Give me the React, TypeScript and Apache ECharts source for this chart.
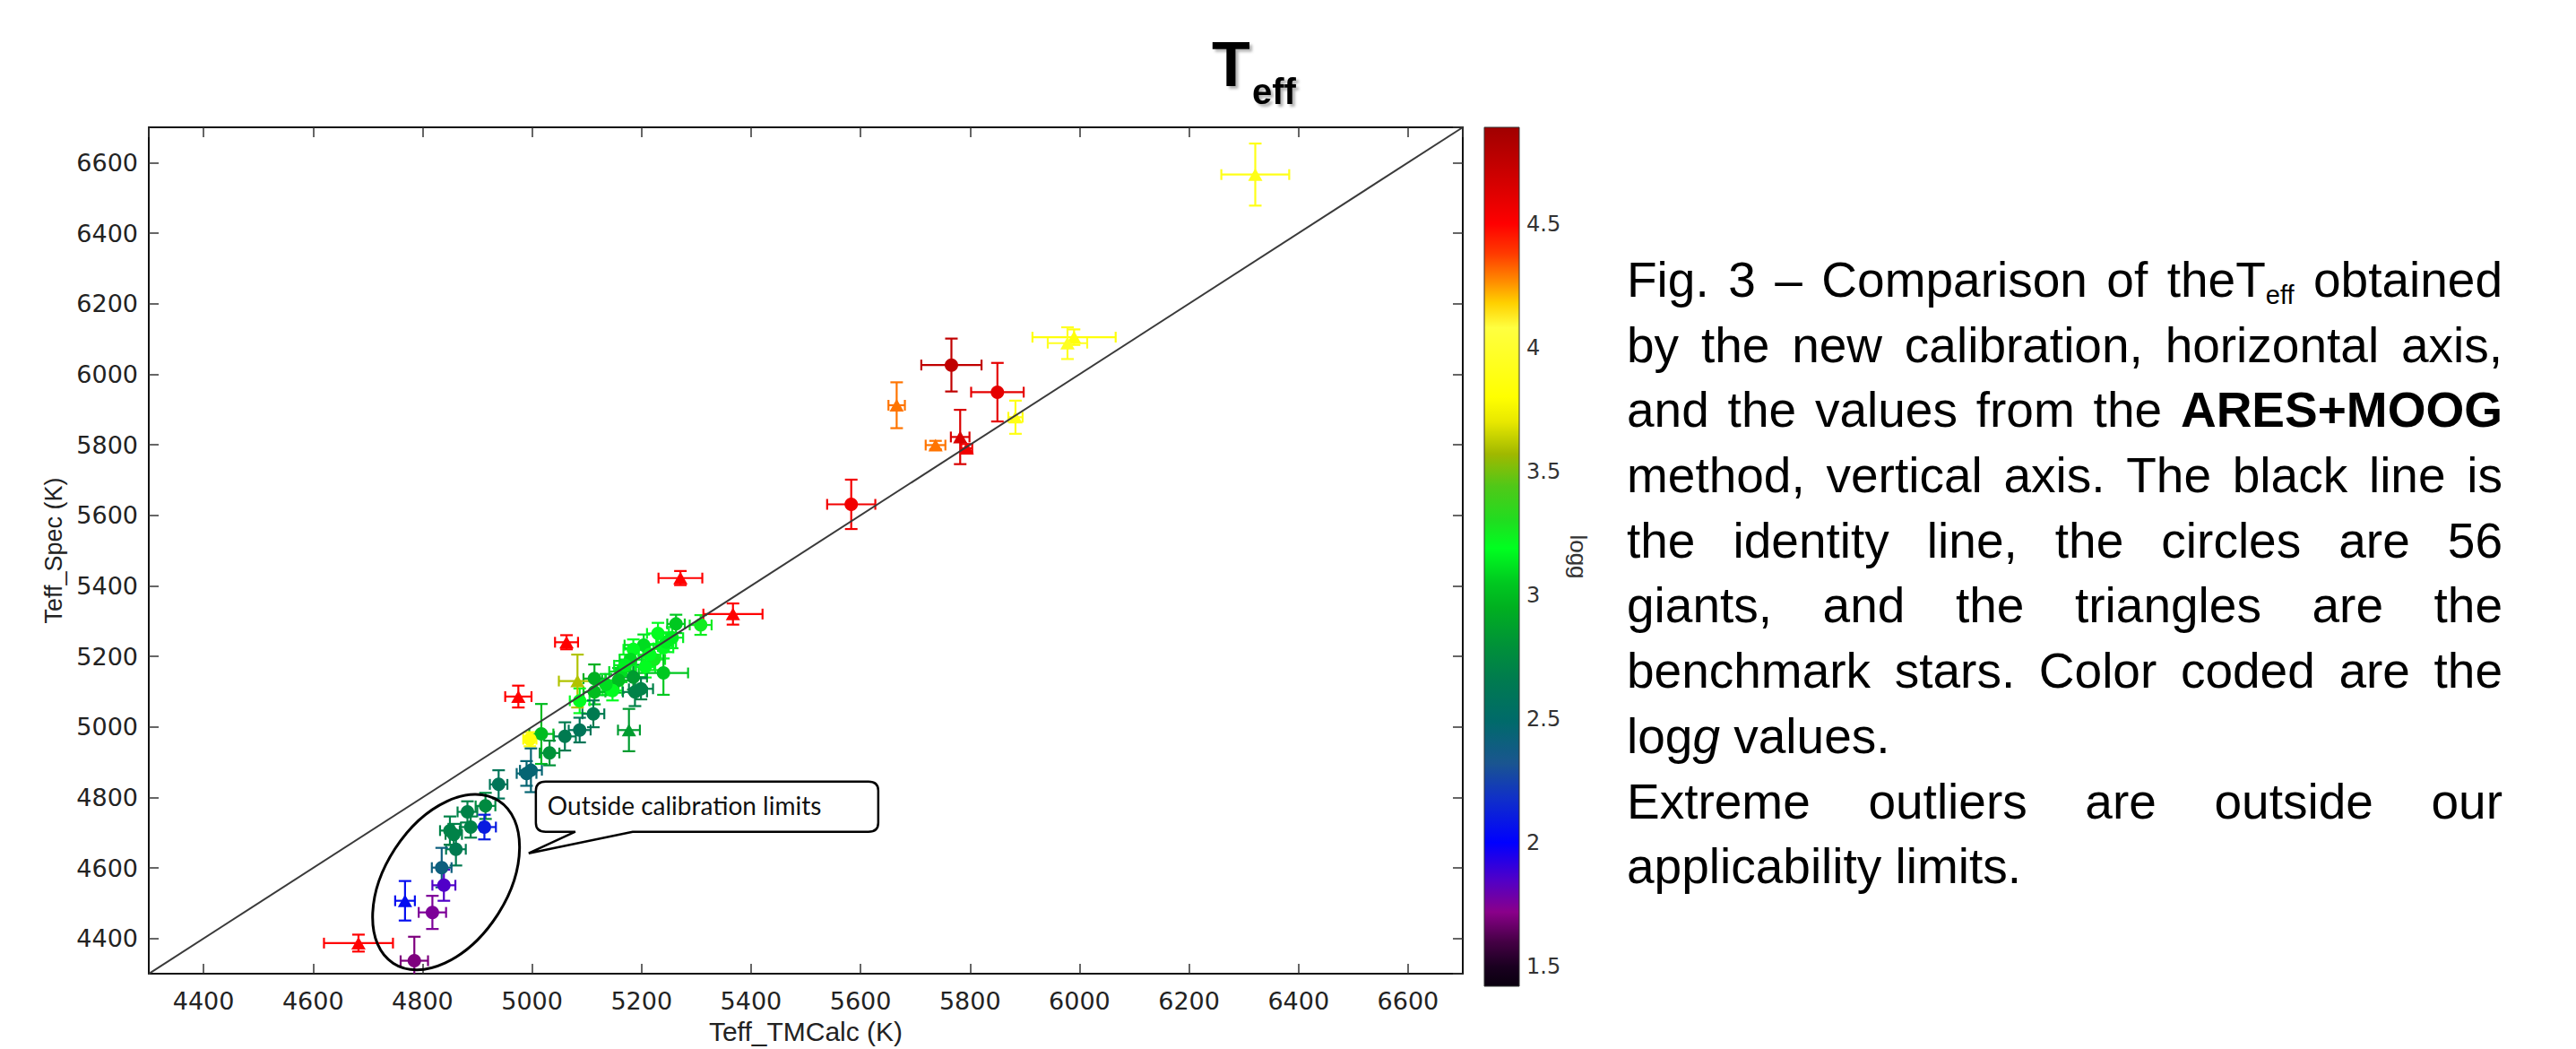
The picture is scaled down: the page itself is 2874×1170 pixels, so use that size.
import React, { useEffect, useRef } from "react";
import * as echarts from "echarts";

// ---------------- data ----------------
const X_MIN = 4300;
const X_MAX = 6700;
const Y_MIN = 4300;
const Y_MAX = 6700;
const LOGG_MIN = 1.42;
const LOGG_MAX = 4.89;

const IDENTITY_X = [4300, 6700];
const IDENTITY_Y = [4300, 6700];

// giants (circles)
const GIANT_TEFF_CALC = [5766, 5850, 5583, 5308, 5263, 5256, 5240, 5204, 5185, 5223, 5180, 5163, 5207, 5240, 5185, 5158, 5147, 5188, 5199, 5114, 5114, 5087, 5112, 5087, 5060, 5017, 5032, 4996, 4998, 4990, 4939, 4915, 4882, 4913, 4888, 4850, 4857, 4861, 4835, 4839, 4818, 4785, 5215, 5245, 5170, 5135, 5230];
const GIANT_TEFF_SPEC = [6026, 5949, 5631, 5289, 5292, 5253, 5224, 5232, 5220, 5191, 5191, 5157, 5170, 5153, 5141, 5132, 5103, 5099, 5108, 5137, 5099, 5074, 5037, 4991, 4973, 4980, 4926, 4965, 4877, 4868, 4837, 4776, 4759, 4716, 4716, 4706, 4695, 4653, 4601, 4551, 4474, 4337, 5205, 5240, 5175, 5120, 5265];
const GIANT_ERR_CALC = [55, 48, 44, 20, 16, 20, 18, 35, 18, 20, 20, 22, 18, 45, 25, 30, 18, 22, 22, 20, 20, 18, 20, 20, 20, 22, 18, 12, 20, 18, 16, 18, 18, 21, 18, 18, 15, 18, 18, 21, 25, 25, 20, 18, 20, 22, 20];
const GIANT_ERR_SPEC = [75, 83, 70, 28, 26, 30, 30, 30, 28, 30, 32, 30, 30, 62, 35, 35, 28, 40, 30, 40, 35, 35, 38, 35, 40, 85, 35, 20, 62, 35, 40, 37, 30, 35, 30, 40, 30, 46, 56, 44, 47, 68, 30, 28, 30, 30, 30];
const GIANT_LOGG = [4.75, 4.6, 4.55, 3.25, 3.05, 3.15, 3.2, 3.1, 3.2, 3.25, 3.1, 3.1, 3.2, 3.05, 2.85, 3.0, 3.2, 2.7, 2.7, 2.95, 3.0, 3.2, 2.65, 2.6, 2.65, 3.0, 2.8, 3.85, 2.45, 2.45, 2.6, 2.75, 2.7, 2.1, 2.7, 2.7, 2.7, 2.65, 2.4, 1.85, 1.75, 1.7, 3.2, 3.15, 3.15, 3.1, 3.2];

// benchmark stars (triangles)
const BENCH_TEFF_CALC = [6321, 5990, 5978, 5883, 5782, 5794, 5737, 5666, 5271, 5367, 5063, 4975, 4683, 4768, 5177, 5083];
const BENCH_TEFF_SPEC = [6566, 6105, 6088, 5878, 5822, 5790, 5799, 5912, 5422, 5320, 5240, 5086, 4387, 4507, 4991, 5130];
const BENCH_ERR_CALC = [62, 76, 36, 13, 17, 10, 18, 15, 40, 54, 21, 24, 63, 18, 20, 34];
const BENCH_ERR_SPEC = [88, 22, 45, 47, 77, 12, 12, 65, 20, 30, 20, 31, 24, 56, 60, 75];
const BENCH_LOGG = [3.9, 3.85, 3.95, 3.9, 4.65, 4.55, 4.3, 4.3, 4.5, 4.5, 4.5, 4.5, 4.5, 2.05, 2.85, 3.6];

// colour map (logg -> colour)
const CMAP_LOGG = [1.42, 1.5, 1.6, 1.72, 1.85, 2.0, 2.18, 2.32, 2.49, 2.65, 2.8, 2.95, 3.05, 3.19, 3.3, 3.44, 3.57, 3.7, 3.8, 4.08, 4.18, 4.27, 4.38, 4.5, 4.62, 4.75, 4.89];
const CMAP_COLORS = ["#0a000f", "#1a0020", "#450045", "#8a008a", "#5000c8", "#0000ff", "#1030c8", "#1a5590", "#006a6a", "#007a50", "#009238", "#00b020", "#00c820", "#00ff20", "#20dd20", "#50c818", "#a0b800", "#e8e800", "#ffff00", "#ffff40", "#ffd000", "#ff8a00", "#ff3a00", "#ff0000", "#e00000", "#c00000", "#a00000"];

// texts
const X_TITLE = "Teff_TMCalc (K)";
const Y_TITLE = "Teff_Spec (K)";
const CBAR_TITLE = "logg";
const CALLOUT_TEXT = "Outside calibration limits";
const CAPTION_LINES = [
  "Fig. 3 – Comparison of theT_{eff} obtained",
  "by the new calibration, horizontal axis,",
  "and the values from the **ARES+MOOG**",
  "method, vertical axis. The black line is",
  "the identity line, the circles are 56",
  "giants, and the triangles are the",
  "benchmark stars. Color coded are the",
  "log*g* values.",
  "Extreme outliers are outside our",
  "applicability limits.",
];
const CAPTION_JUSTIFY = [true, true, true, true, true, true, true, false, true, false];

// annotation anchors in data space
const ELLIPSE_CENTER = [4843, 4560];
const CALLOUT_ANCHOR = [5007, 4845];

// ---------------- helpers ----------------
function hexToRgb(h: string) {
  const n = parseInt(h.slice(1), 16);
  return [(n >> 16) & 255, (n >> 8) & 255, n & 255];
}
function loggColor(g: number) {
  if (g <= CMAP_LOGG[0]) return CMAP_COLORS[0];
  for (let i = 1; i < CMAP_LOGG.length; i++) {
    if (g <= CMAP_LOGG[i]) {
      const t = (g - CMAP_LOGG[i - 1]) / (CMAP_LOGG[i] - CMAP_LOGG[i - 1]);
      const a = hexToRgb(CMAP_COLORS[i - 1]);
      const b = hexToRgb(CMAP_COLORS[i]);
      const c = a.map((v, k) => Math.round(v + (b[k] - v) * t));
      return `rgb(${c[0]},${c[1]},${c[2]})`;
    }
  }
  return CMAP_COLORS[CMAP_COLORS.length - 1];
}

const CALLOUT_PATH =
  "M11,0 L371,0 Q382,0 382,10 L382,46 Q382,56 371,56 L108,56 L-8,80 L44,56 L11,56 Q0,56 0,46 L0,10 Q0,0 11,0 Z";
echarts.graphic.registerShape("callout", echarts.graphic.extendPath(CALLOUT_PATH, {}) as any);

const giantRows = GIANT_TEFF_CALC.map((x, i) => [x, GIANT_TEFF_SPEC[i], GIANT_LOGG[i]]);
const benchRows = BENCH_TEFF_CALC.map((x, i) => [x, BENCH_TEFF_SPEC[i], BENCH_LOGG[i]]);
const errRows = [
  ...GIANT_TEFF_CALC.map((x, i) => [x, GIANT_TEFF_SPEC[i], GIANT_ERR_CALC[i], GIANT_ERR_SPEC[i], GIANT_LOGG[i]]),
  ...BENCH_TEFF_CALC.map((x, i) => [x, BENCH_TEFF_SPEC[i], BENCH_ERR_CALC[i], BENCH_ERR_SPEC[i], BENCH_LOGG[i]]),
];

const TICK_FONT = { fontFamily: '"DejaVu Sans"', fontSize: 27, color: "#222" };
const plainNumber = (v: number) => String(v);

function buildOption(): any {
  const stops = CMAP_LOGG.map((v, i) => ({
    offset: (LOGG_MAX - v) / (LOGG_MAX - LOGG_MIN),
    color: CMAP_COLORS[i],
  })).reverse();
  const mainAxisCommon = {
    type: "value",
    splitNumber: 12,
    splitLine: { show: false },
    axisLine: { show: true, onZero: false, lineStyle: { color: "#111", width: 2 } },
    axisTick: { show: true, inside: true, length: 11, lineStyle: { color: "#333", width: 1.5 } },
  };
  return {
    animation: false,
    backgroundColor: "#ffffff",
    grid: [
      { left: 166, top: 142, width: 1466, height: 958 },
      { left: 1656, top: 142, width: 39, height: 958 },
    ],
    xAxis: [
      {
        ...mainAxisCommon,
        gridIndex: 0,
        min: X_MIN,
        max: X_MAX,
        position: "bottom",
        axisLabel: { margin: 17, showMinLabel: false, showMaxLabel: false, formatter: plainNumber, ...TICK_FONT },
        name: X_TITLE,
        nameLocation: "middle",
        nameGap: 48,
        nameTextStyle: { fontFamily: '"Liberation Sans"', fontSize: 30, color: "#222" },
      },
      { ...mainAxisCommon, gridIndex: 0, min: X_MIN, max: X_MAX, position: "top", axisLabel: { show: false } },
      { gridIndex: 1, type: "value", min: 0, max: 1, show: false },
    ],
    yAxis: [
      {
        ...mainAxisCommon,
        gridIndex: 0,
        min: Y_MIN,
        max: Y_MAX,
        position: "left",
        axisLabel: { margin: 12, showMinLabel: false, showMaxLabel: false, formatter: plainNumber, ...TICK_FONT },
        name: Y_TITLE,
        nameLocation: "middle",
        nameRotate: 90,
        nameGap: 93,
        nameTextStyle: { fontFamily: '"Liberation Sans"', fontSize: 27, color: "#222" },
      },
      { ...mainAxisCommon, gridIndex: 0, min: Y_MIN, max: Y_MAX, position: "right", axisLabel: { show: false } },
      {
        gridIndex: 1,
        type: "value",
        min: LOGG_MIN,
        max: LOGG_MAX,
        splitNumber: 7,
        position: "right",
        splitLine: { show: false },
        axisLine: { show: false },
        axisTick: { show: true, inside: false, length: 5, lineStyle: { color: "#333", width: 1.5 } },
        axisLabel: { margin: 8, showMinLabel: false, showMaxLabel: false, formatter: plainNumber, ...TICK_FONT, fontSize: 24, color: "#333" },
        name: CBAR_TITLE,
        nameLocation: "middle",
        nameRotate: -90,
        nameGap: 53,
        nameTextStyle: { fontFamily: '"Liberation Sans"', fontSize: 26, color: "#333" },
      },
    ],
    series: [
      {
        type: "custom",
        name: "errors",
        xAxisIndex: 0,
        yAxisIndex: 0,
        clip: true,
        z: 2,
        data: errRows,
        encode: { x: 0, y: 1 },
        renderItem: (params: any, api: any) => {
          const x = api.value(0);
          const y = api.value(1);
          const ex = api.value(2);
          const ey = api.value(3);
          const color = loggColor(api.value(4));
          const c = api.coord([x, y]);
          const l = api.coord([x - ex, y])[0];
          const r = api.coord([x + ex, y])[0];
          const t = api.coord([x, y + ey])[1];
          const b = api.coord([x, y - ey])[1];
          const st = { stroke: color, lineWidth: 2.2, fill: "none" };
          const hc = 6;
          const vc = 7;
          return {
            type: "group",
            children: [
              { type: "line", shape: { x1: l, y1: c[1], x2: r, y2: c[1] }, style: st },
              { type: "line", shape: { x1: l, y1: c[1] - hc, x2: l, y2: c[1] + hc }, style: st },
              { type: "line", shape: { x1: r, y1: c[1] - hc, x2: r, y2: c[1] + hc }, style: st },
              { type: "line", shape: { x1: c[0], y1: t, x2: c[0], y2: b }, style: st },
              { type: "line", shape: { x1: c[0] - vc, y1: t, x2: c[0] + vc, y2: t }, style: st },
              { type: "line", shape: { x1: c[0] - vc, y1: b, x2: c[0] + vc, y2: b }, style: st },
            ],
          };
        },
      },
      {
        type: "scatter",
        name: "giants",
        xAxisIndex: 0,
        yAxisIndex: 0,
        z: 3,
        symbol: "circle",
        symbolSize: 15,
        data: giantRows,
        itemStyle: { opacity: 1, color: (p: any) => loggColor(p.value[2]) },
      },
      {
        type: "scatter",
        name: "benchmark",
        xAxisIndex: 0,
        yAxisIndex: 0,
        z: 3,
        symbol: "triangle",
        symbolSize: [16, 14],
        data: benchRows,
        itemStyle: { opacity: 1, color: (p: any) => loggColor(p.value[2]) },
      },
      {
        type: "line",
        name: "identity",
        xAxisIndex: 0,
        yAxisIndex: 0,
        z: 4,
        symbol: "none",
        data: IDENTITY_X.map((x, i) => [x, IDENTITY_Y[i]]),
        lineStyle: { color: "#3a3a3a", width: 2 },
      },
      {
        type: "custom",
        name: "colorbar",
        xAxisIndex: 2,
        yAxisIndex: 2,
        data: [[0, LOGG_MIN, LOGG_MAX]],
        encode: { x: 0, y: 1 },
        renderItem: (params: any, api: any) => {
          const p0 = api.coord([0, LOGG_MAX]);
          const p1 = api.coord([1, LOGG_MIN]);
          return {
            type: "rect",
            shape: { x: p0[0], y: p0[1], width: p1[0] - p0[0], height: p1[1] - p0[1] },
            style: {
              fill: new echarts.graphic.LinearGradient(0, 0, 0, 1, stops),
              stroke: "#333",
              lineWidth: 1,
            },
          };
        },
      },
    ],
  };
}

function parseRuns(word: string) {
  const parts = word.split(/(\*\*[^*]+\*\*|\*[^*]+\*|_\{[^}]+\})/).filter((s) => s);
  return parts.map((p) => {
    if (p.startsWith("**")) return { text: p.slice(2, -2), bold: true, italic: false, sub: false };
    if (p.startsWith("_{")) return { text: p.slice(2, -1), bold: false, italic: false, sub: true };
    if (p.startsWith("*")) return { text: p.slice(1, -1), bold: false, italic: true, sub: false };
    return { text: p, bold: false, italic: false, sub: false };
  });
}

function buildGraphics(chart: any) {
  const els: any[] = [];
  const shadow = {
    textShadowColor: "rgba(0,0,0,0.3)",
    textShadowBlur: 3,
    textShadowOffsetX: 3,
    textShadowOffsetY: 3,
  };
  // title T_eff
  els.push({
    type: "text",
    x: 1352,
    y: 96 - 0.3465 * 70,
    z: 10,
    style: { text: "T", font: 'bold 70px "Liberation Sans"', fill: "#000", align: "left", verticalAlign: "middle", ...shadow },
  });
  els.push({
    type: "text",
    x: 1397,
    y: 116 - 0.3465 * 40,
    z: 10,
    style: { text: "eff", font: 'bold 40px "Liberation Sans"', fill: "#000", align: "left", verticalAlign: "middle", ...shadow },
  });

  // ellipse
  const ec = chart.convertToPixel({ xAxisIndex: 0, yAxisIndex: 0 }, ELLIPSE_CENTER);
  els.push({
    type: "ellipse",
    x: ec[0],
    y: ec[1],
    rotation: (-33 * Math.PI) / 180,
    z: 20,
    shape: { cx: 0, cy: 0, rx: 68, ry: 108 },
    style: { fill: "none", stroke: "#000", lineWidth: 3 },
  });

  // callout
  const cb = chart.convertToPixel({ xAxisIndex: 0, yAxisIndex: 0 }, CALLOUT_ANCHOR);
  els.push({ type: "callout", x: cb[0], y: cb[1], z: 21, style: { fill: "#fff", stroke: "#000", lineWidth: 2.5 } });
  els.push({
    type: "text",
    x: cb[0] + 13,
    y: cb[1] + 26,
    z: 22,
    style: { text: CALLOUT_TEXT, font: "28px Lato", fill: "#111", align: "left", verticalAlign: "middle" },
  });

  // caption (justified)
  const canvas = document.createElement("canvas");
  const ctx = canvas.getContext("2d")!;
  const SIZE = 55;
  const SUB = 29;
  const LEFT = 1815;
  const RIGHT = 2792;
  const BASE0 = 331;
  const LINE_H = 72.7;
  const fontOf = (r: any) =>
    `${r.italic ? "italic " : ""}${r.bold ? "bold " : ""}${r.sub ? SUB : SIZE}px "Liberation Sans"`;
  ctx.font = fontOf({});
  const spaceW = ctx.measureText(" ").width;
  CAPTION_LINES.forEach((line, li) => {
    const words = line.split(" ").map((w) => {
      const runs = parseRuns(w).map((r) => {
        ctx.font = fontOf(r);
        return { ...r, w: ctx.measureText(r.text).width };
      });
      return { runs, w: runs.reduce((s, r) => s + r.w, 0) };
    });
    const total = words.reduce((s, w) => s + w.w, 0);
    const gap = CAPTION_JUSTIFY[li] && words.length > 1 ? (RIGHT - LEFT - total) / (words.length - 1) : spaceW;
    const base = BASE0 + li * LINE_H;
    let cx = LEFT;
    words.forEach((w) => {
      w.runs.forEach((r) => {
        const fs = r.sub ? SUB : SIZE;
        const bl = r.sub ? base + 8 : base;
        els.push({
          type: "text",
          x: cx,
          y: bl - 0.3465 * fs,
          z: 10,
          style: { text: r.text, font: fontOf(r), fill: "#000", align: "left", verticalAlign: "middle" },
        });
        cx += r.w;
      });
      cx += gap;
    });
  });
  return els;
}

export default function App() {
  const ref = useRef<HTMLDivElement>(null);
  useEffect(() => {
    const chart = echarts.init(ref.current!, undefined, { renderer: "svg" });
    chart.setOption(buildOption());
    chart.setOption({ graphic: buildGraphics(chart) });
    return () => chart.dispose();
  }, []);
  return (
    <div
      ref={ref}
      style={{ position: "fixed", left: 0, top: 0, width: 2874, height: 1170, background: "#fff" }}
    />
  );
}
